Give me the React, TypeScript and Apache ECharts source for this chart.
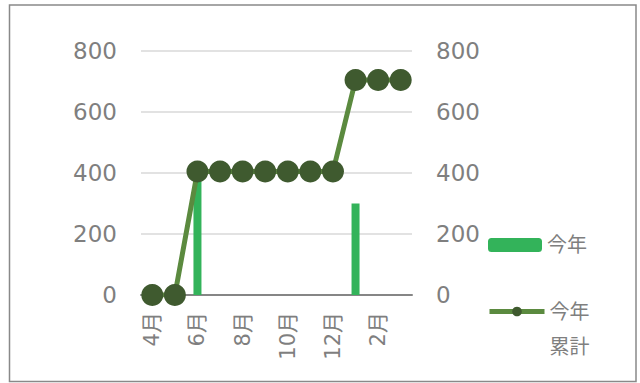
import React, { useEffect, useRef } from "react";
import * as echarts from "echarts";

const categories = ["4月", "5月", "6月", "7月", "8月", "9月", "10月", "11月", "12月", "1月", "2月", "3月"];
const monthly = [0, 0, 405, 0, 0, 0, 0, 0, 0, 300, 0, 0];
const cumulative = [0, 0, 405, 405, 405, 405, 405, 405, 405, 705, 705, 705];
const barName = "今年";
const lineName = "今年累計";

const FONT = "'DejaVu Sans', 'Noto Sans CJK JP', sans-serif";
const GRAY = "#7f7f7f";

export default function App() {
  const ref = useRef<HTMLDivElement>(null);
  useEffect(() => {
    if (!ref.current) return;
    const chart = echarts.init(ref.current, null, { renderer: "svg" });
    const yAxisCommon = {
      type: "value",
      min: 0,
      max: 800,
      interval: 200,
      axisLine: { show: false },
      axisTick: { show: false },
      axisLabel: { color: GRAY, fontSize: 23, fontFamily: FONT, margin: 24 },
    };
    chart.setOption({
      animation: false,
      backgroundColor: "#ffffff",
      textStyle: { fontFamily: FONT },
      grid: { left: 141, right: 228, top: 51, bottom: 88 },
      graphic: [
        {
          type: "rect",
          shape: { x: 9.5, y: 5, width: 626.5, height: 376.5 },
          style: { fill: "none", stroke: "#898989", lineWidth: 1.5 },
          silent: true,
        },
      ],
      legend: [
        {
          orient: "vertical",
          left: 488,
          top: 235,
          padding: 0,
          itemWidth: 54,
          itemHeight: 14,
          itemGap: 0,
          data: [barName],
          textStyle: { color: GRAY, fontSize: 20, fontFamily: FONT },
        },
        {
          orient: "vertical",
          left: 487,
          top: 259,
          padding: 0,
          itemWidth: 55,
          itemHeight: 12,
          data: [lineName],
          lineStyle: { width: 5 },
          formatter: () => " \n今年\n累計",
          textStyle: {
            color: GRAY,
            fontSize: 20,
            lineHeight: 35,
            fontFamily: FONT,
          },
        },
      ],
      xAxis: {
        type: "category",
        data: categories,
        axisLine: { lineStyle: { color: "#868686", width: 2 } },
        axisTick: { show: false },
        axisLabel: {
          interval: 1,
          rotate: 90,
          color: GRAY,
          fontSize: 21,
          fontFamily: FONT,
          margin: 17,
        },
      },
      yAxis: [
        {
          ...yAxisCommon,
          splitLine: { lineStyle: { color: "#d9d9d9", width: 1.5 } },
        },
        {
          ...yAxisCommon,
          position: "right",
          splitLine: { show: false },
        },
      ],
      series: [
        {
          name: barName,
          type: "bar",
          data: monthly,
          yAxisIndex: 0,
          barWidth: 8,
          itemStyle: { color: "#33b35a" },
          z: 1,
        },
        {
          name: lineName,
          type: "line",
          data: cumulative,
          yAxisIndex: 1,
          symbol: "circle",
          symbolSize: 22,
          showAllSymbol: true,
          lineStyle: { color: "#5b8a3f", width: 5 },
          itemStyle: { color: "#3f5a2f" },
          z: 2,
        },
      ],
    });
    return () => chart.dispose();
  }, []);
  return (
    <div
      ref={ref}
      style={{ position: "absolute", left: 0, top: 0, width: 640, height: 383 }}
    />
  );
}
